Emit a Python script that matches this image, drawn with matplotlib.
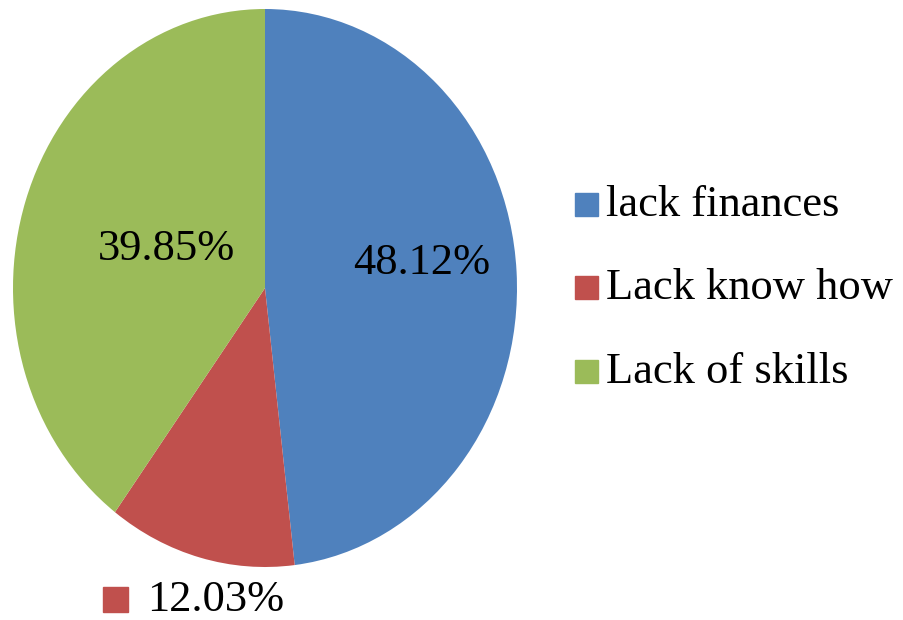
import matplotlib.pyplot as plt
import matplotlib.patches as mpatches

labels = ["lack finances", "Lack know how", "Lack of skills"]
shares = [48.12, 12.03, 39.85]
colors = ["#4F81BD", "#C0504D", "#9BBB59"]

plt.rcParams["font.family"] = ["Liberation Serif", "DejaVu Serif"]

W, H = 904, 620
fig = plt.figure(figsize=(W / 100, H / 100), dpi=100)

# pie is stretched vertically in the original, so use an auto-aspect axes
cx, cy, rx, ry = 265, 288, 252, 279
ax = fig.add_axes([(cx - rx) / W, (H - cy - ry) / H, 2 * rx / W, 2 * ry / H])
ax.pie(shares, colors=colors, startangle=90, counterclock=False,
       wedgeprops=dict(linewidth=0))
ax.set_aspect("auto")
ax.set_xlim(-1, 1)
ax.set_ylim(-1, 1)
ax.axis("off")

fs = 32


def square(x, y, col, size=23):
    # x, y = top-left corner in pixels (image coords)
    fig.patches.append(mpatches.Rectangle((x / W, (H - y - size) / H), size / W, size / H,
                                          color=col, transform=fig.transFigure))


# data labels (two inside, the small one below the pie with its key)
ax.text(0.62, 0.09, f"{shares[0]:.2f}%", fontsize=fs, ha="center", va="center")
ax.text(-0.39, 0.14, f"{shares[2]:.2f}%", fontsize=fs, ha="center", va="center")
fig.text(147 / W, (H - 600) / H, f"{shares[1]:.2f}%", fontsize=fs, ha="left", va="center")
square(103, 587, colors[1], 25)

# legend drawn by hand
ys = [205, 288, 372]
for lab, col, y in zip(labels, colors, ys):
    square(575, y - 12, col)
    fig.text(606 / W, (H - y) / H, lab, fontsize=fs, ha="left", va="center")

fig.savefig("out.png", dpi=100)
